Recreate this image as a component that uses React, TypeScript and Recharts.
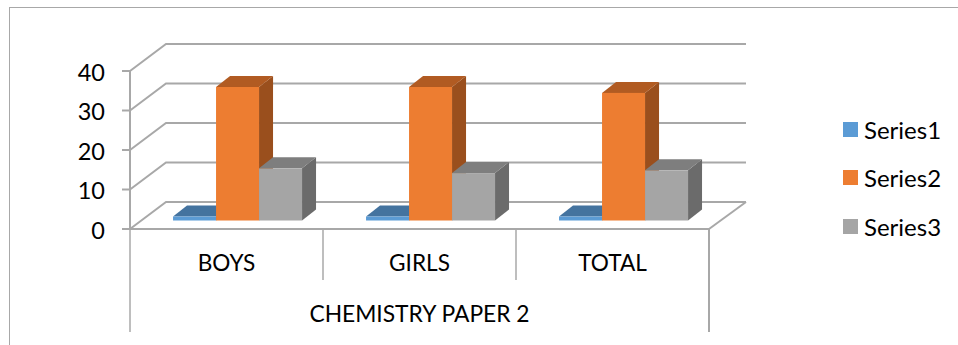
import React from "react";
import { BarChart, Bar, XAxis, YAxis, CartesianGrid, Legend } from "recharts";

// Chart values
const categories = ["BOYS", "GIRLS", "TOTAL"];
const groupLabel = "CHEMISTRY PAPER 2";
const series1 = [1, 1, 1];
const series2 = [33.8, 33.8, 32.3];
const series3 = [13.2, 12, 12.7];
const yTicks = [0, 10, 20, 30, 40];

const rows = categories.map((name, i) => ({
  name,
  group: groupLabel,
  series1: series1[i],
  series2: series2[i],
  series3: series3[i],
}));

const FONT = "Lato, 'Open Sans', sans-serif";
const LINE = "#a8a8a8";
const INK = "#000";
const BACK_DX = 37;
const BACK_DY = -27;

// Depth of the extruded bars and their inset from the front floor edge
const DEPTH_X = 14;
const DEPTH_Y = -11;
const INSET_X = 11;
const INSET_Y = -8.5;

const palettes = {
  series1: { front: "#5b9bd5", top: "#44739f", side: "#3d6a94" },
  series2: { front: "#ed7d31", top: "#b15b22", side: "#9a4f1d" },
  series3: { front: "#a5a5a5", top: "#7e7e7e", side: "#6b6b6b" },
};

const pts = (list: number[][]) => list.map((p) => p.join(",")).join(" ");

function Bar3D(props: any) {
  const { x, y, width, height, palette } = props;
  const l = x + INSET_X;
  const r = l + width;
  const t = y + INSET_Y;
  const b = t + height;
  return (
    <g>
      <polygon
        points={pts([[r, t], [r + DEPTH_X, t + DEPTH_Y], [r + DEPTH_X, b + DEPTH_Y], [r, b]])}
        fill={palette.side}
      />
      <polygon
        points={pts([[l, t], [l + DEPTH_X, t + DEPTH_Y], [r + DEPTH_X, t + DEPTH_Y], [r, t]])}
        fill={palette.top}
      />
      <rect x={l} y={t} width={width} height={height} fill={palette.front} />
    </g>
  );
}

// One gridline: slants back from the value axis, then runs along the back wall
function WallLine(props: any) {
  const { x1, x2, y1, index } = props;
  const by = y1 + BACK_DY;
  return (
    <g key={`wall-${index}`} fill="none" stroke={LINE} strokeWidth={2}>
      <polyline points={pts([[x1, y1], [x1 + BACK_DX - 1, by], [x2 + BACK_DX, by]])} />
      {y1 > 200 ? <line x1={x2} y1={y1} x2={x2 + BACK_DX} y2={by} /> : null}
    </g>
  );
}

function CategoryTick(props: any) {
  const { x, y, payload, index } = props;
  const half = payload.offset ?? 96.5;
  const isFirst = index === 0;
  const isLast = index === categories.length - 1;
  const top = y - 8;
  return (
    <g>
      <text x={x} y={top + 42} textAnchor="middle" fontSize={22.6} fontFamily={FONT} fill={INK}>
        {payload.value}
      </text>
      {isFirst ? <line x1={x - half} x2={x - half} y1={top} y2={top + 103} stroke={LINE} strokeWidth={1.5} /> : null}
      <line
        x1={x + half}
        x2={x + half}
        y1={top}
        y2={top + (isLast ? 103 : 51)}
        stroke={LINE}
        strokeWidth={isLast ? 2 : 1.5}
      />
    </g>
  );
}

function GroupTick(props: any) {
  const { x, y, payload } = props;
  return (
    <text x={x} y={y + 34} textAnchor="middle" fontSize={22.8} fontFamily={FONT} fill={INK}>
      {payload.value}
    </text>
  );
}

function LegendList(props: any) {
  return (
    <div>
      {props.payload.map((item: any) => (
        <div
          key={item.value}
          style={{
            display: "flex",
            alignItems: "center",
            height: 48.5,
            fontFamily: FONT,
            fontSize: 24,
            color: INK,
          }}
        >
          <span style={{ width: 15, height: 15, background: item.color, marginRight: 6, display: "block" }} />
          {item.value}
        </div>
      ))}
    </div>
  );
}

export default function App() {
  return (
    <div style={{ position: "absolute", left: 0, top: 0, width: 958, height: 345, background: "#fff", overflow: "hidden" }}>
      <div
        style={{
          position: "absolute",
          left: 9,
          top: 7,
          width: 949,
          height: 338,
          borderLeft: `1.5px solid ${LINE}`,
          borderTop: `1.5px solid ${LINE}`,
        }}
      />
      <BarChart
        width={958}
        height={345}
        data={rows}
        margin={{ top: 71, right: 139, bottom: 0, left: 0 }}
        barGap={0}
        barCategoryGap="16.6%"
        style={{ position: "absolute", left: 0, top: 0 }}
      >
        <CartesianGrid vertical={false} horizontal={(p: any) => <WallLine {...p} />} />
        <XAxis
          dataKey="name"
          xAxisId={0}
          height={51}
          interval={0}
          tickLine={false}
          axisLine={{ stroke: LINE, strokeWidth: 2 }}
          tick={(p: any) => <CategoryTick {...p} />}
        />
        <XAxis
          dataKey="group"
          xAxisId="group"
          height={65}
          allowDuplicatedCategory={false}
          tickLine={false}
          axisLine={false}
          tick={(p: any) => <GroupTick {...p} />}
        />
        <YAxis
          width={130}
          domain={[0, 40]}
          ticks={yTicks}
          interval={0}
          tickSize={8}
          tickMargin={17}
          axisLine={{ stroke: LINE, strokeWidth: 2 }}
          tickLine={{ stroke: LINE, strokeWidth: 2 }}
          tick={{ fontSize: 23.5, fontFamily: FONT, fill: INK, dy: 1.5 }}
        />
        <Legend
          layout="horizontal"
          verticalAlign="middle"
          align="right"
          wrapperStyle={{ position: "absolute", left: 843, top: 105, width: 110, bottom: "auto", right: "auto" }}
          content={(p: any) => <LegendList {...p} />}
        />
        <Bar
          dataKey="series1"
          name="Series1"
          fill={palettes.series1.front}
          isAnimationActive={false}
          shape={(p: any) => <Bar3D {...p} palette={palettes.series1} />}
        />
        <Bar
          dataKey="series2"
          name="Series2"
          fill={palettes.series2.front}
          isAnimationActive={false}
          shape={(p: any) => <Bar3D {...p} palette={palettes.series2} />}
        />
        <Bar
          dataKey="series3"
          name="Series3"
          fill={palettes.series3.front}
          isAnimationActive={false}
          shape={(p: any) => <Bar3D {...p} palette={palettes.series3} />}
        />
      </BarChart>
    </div>
  );
}
